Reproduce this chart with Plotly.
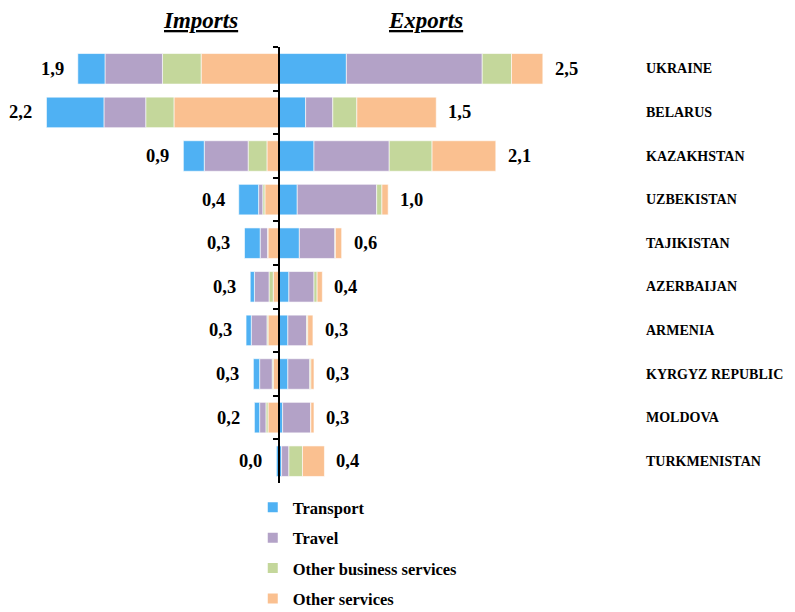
import plotly.graph_objects as go

# Services trade by partner country (bn USD)
countries = ["UKRAINE", "BELARUS", "KAZAKHSTAN", "UZBEKISTAN", "TAJIKISTAN",
             "AZERBAIJAN", "ARMENIA", "KYRGYZ REPUBLIC", "MOLDOVA", "TURKMENISTAN"]
categories = ["Transport", "Travel", "Other business services", "Other services"]

imp_transport = [0.26, 0.55, 0.20, 0.19, 0.15, 0.04, 0.05, 0.06, 0.05, 0.02]
imp_travel = [0.55, 0.40, 0.42, 0.04, 0.07, 0.14, 0.15, 0.12, 0.06, 0.005]
imp_business = [0.37, 0.27, 0.18, 0.02, 0.005, 0.04, 0.01, 0.01, 0.02, 0.0]
imp_other = [0.75, 1.01, 0.12, 0.14, 0.11, 0.06, 0.11, 0.06, 0.11, 0.005]

exp_transport = [0.64, 0.25, 0.33, 0.17, 0.19, 0.09, 0.08, 0.08, 0.03, 0.02]
exp_travel = [1.30, 0.26, 0.72, 0.76, 0.34, 0.24, 0.18, 0.21, 0.27, 0.07]
exp_business = [0.28, 0.23, 0.41, 0.05, 0.005, 0.03, 0.01, 0.01, 0.0, 0.13]
exp_other = [0.30, 0.76, 0.61, 0.06, 0.06, 0.05, 0.05, 0.03, 0.03, 0.21]

imp_total_labels = [1.9, 2.2, 0.9, 0.4, 0.3, 0.3, 0.3, 0.3, 0.2, 0.0]
exp_total_labels = [2.5, 1.5, 2.1, 1.0, 0.6, 0.4, 0.3, 0.3, 0.3, 0.4]

COLORS = {
    "Transport": "#4FB1F3",
    "Travel": "#B3A2C7",
    "Other business services": "#C4D79B",
    "Other services": "#FAC090",
}
FONT = "Liberation Serif, Times New Roman, serif"

imports = dict(zip(categories, [imp_transport, imp_travel, imp_business, imp_other]))
exports = dict(zip(categories, [exp_transport, exp_travel, exp_business, exp_other]))

fig = go.Figure()

# imports go left; nearest to the axis is "Other services"
for cat in reversed(categories):
    fig.add_trace(go.Bar(
        y=countries, x=[-v for v in imports[cat]], orientation="h",
        name=cat, legendgroup=cat, showlegend=False,
        marker=dict(color=COLORS[cat], line=dict(color="white", width=0.6)),
        hovertemplate="%{y}<br>Imports " + cat + ": %{customdata:.2f}<extra></extra>",
        customdata=imports[cat],
    ))

# exports go right
for cat in categories:
    fig.add_trace(go.Bar(
        y=countries, x=exports[cat], orientation="h",
        name=cat, legendgroup=cat,
        marker=dict(color=COLORS[cat], line=dict(color="white", width=0.6)),
        hovertemplate="%{y}<br>Exports " + cat + ": %{x:.2f}<extra></extra>",
    ))

imp_sum = [sum(v) for v in zip(*imports.values())]
exp_sum = [sum(v) for v in zip(*exports.values())]

def fmt(v):
    return f"{v:.1f}".replace(".", ",")

annotations = []
for i, c in enumerate(countries):
    annotations.append(dict(x=-imp_sum[i], y=c, text=f"<b>{fmt(imp_total_labels[i])}</b>",
                            xanchor="right", xshift=-12, showarrow=False,
                            font=dict(family=FONT, size=18.5, color="black")))
    annotations.append(dict(x=exp_sum[i], y=c, text=f"<b>{fmt(exp_total_labels[i])}</b>",
                            xanchor="left", xshift=10, showarrow=False,
                            font=dict(family=FONT, size=18.5, color="black")))
    annotations.append(dict(x=0.8085, xref="paper", y=c, text=f"<b>{c}</b>",
                            xanchor="left", showarrow=False,
                            font=dict(family=FONT, size=14, color="black")))

for txt, xp in [("Imports", 0.2449), ("Exports", 0.5305)]:
    annotations.append(dict(x=xp, y=1.06, xref="paper", yref="paper",
                            xanchor="center", yanchor="middle",
                            text=f"<b><i><u>{txt}</u></i></b>", showarrow=False,
                            font=dict(family=FONT, size=23, color="black")))

x_range = [-2.598, 4.933]
axis_pos = -x_range[0] / (x_range[1] - x_range[0])

fig.update_layout(
    barmode="relative",
    bargap=0.3,
    width=787, height=604,
    margin=dict(l=0, r=0, t=39, b=129, autoexpand=False),
    plot_bgcolor="white", paper_bgcolor="white",
    font=dict(family=FONT, color="black"),
    xaxis=dict(range=x_range, visible=False, fixedrange=True, automargin=False),
    yaxis=dict(
        categoryorder="array", categoryarray=countries, autorange="reversed",
        anchor="free", position=axis_pos, automargin=False,
        showline=True, linecolor="black", linewidth=2,
        ticks="outside", ticklen=5, tickcolor="black", tickwidth=1.5,
        tickson="boundaries",
        showticklabels=False, showgrid=False, zeroline=False,
    ),
    legend=dict(
        x=0.311, y=-0.016, xanchor="left", yanchor="top",
        orientation="v", tracegroupgap=6,
        font=dict(family=FONT, size=16.5, color="black", weight="bold"),
        itemsizing="constant",
    ),
    annotations=annotations,
)

fig.write_html("out.html")
